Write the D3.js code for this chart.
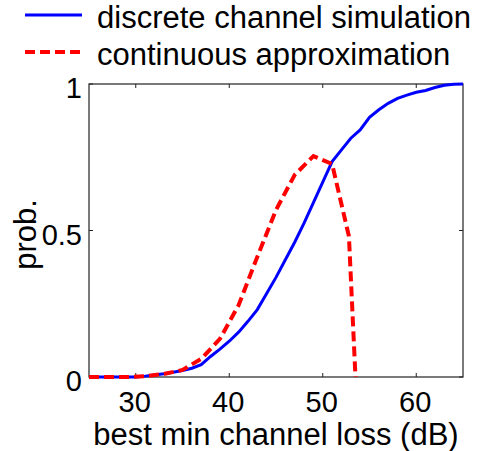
<!DOCTYPE html>
<html>
<head>
<meta charset="utf-8">
<script src="https://cdn.jsdelivr.net/npm/d3@7"></script>
<style>
  body { margin: 0; background: #fff; }
  text { font-family: "Liberation Sans", Arial, sans-serif; fill: #000; }
</style>
</head>
<body>
<div id="chart"></div>
<script>
const width = 485;
const height = 451;

// discrete channel simulation (blue solid)
const discreteX = [25, 26, 27, 28, 29, 30, 31, 32, 33, 34, 35, 36, 37, 38, 39, 40, 41, 42, 43, 44, 45,
  46, 47, 48, 49, 50, 51, 52, 53, 54, 55, 56, 57, 58, 59, 60, 61, 62, 63, 64, 65];
const discreteY = [0, 0, 0, 0, 0, 0, 0.003, 0.007, 0.011, 0.016, 0.022, 0.03, 0.042, 0.07, 0.095, 0.122, 0.153, 0.19, 0.23, 0.285, 0.34,
  0.4, 0.46, 0.525, 0.595, 0.665, 0.735, 0.775, 0.815, 0.843, 0.886, 0.912, 0.934, 0.951, 0.962, 0.972, 0.978, 0.988, 0.996, 0.999, 1];

// continuous approximation (red dashed)
const contX = [25, 27, 29, 31, 33, 35, 37, 39, 41, 43, 45, 47, 49, 51, 52.8, 53.5];
const contY = [0, 0, 0, 0.003, 0.01, 0.024, 0.062, 0.13, 0.245, 0.41, 0.57, 0.69, 0.754, 0.727, 0.48, 0];

const xTicks = [30, 40, 50, 60];
const yTicks = [0, 0.5, 1];
const yTickLabels = ["0", "0.5", "1"];

const seriesNames = ["discrete channel simulation", "continuous approximation"];
const seriesColors = ["#0000ff", "#ff0000"];

const margin = { left: 89, right: 22, top: 84, bottom: 74 };

const svg = d3.select("#chart").append("svg")
  .attr("width", width)
  .attr("height", height);

const x = d3.scaleLinear().domain([25, 65]).range([margin.left, width - margin.right]);
const y = d3.scaleLinear().domain([0, 1]).range([height - margin.bottom, margin.top]);

const plotW = width - margin.left - margin.right;
const plotH = height - margin.top - margin.bottom;

svg.append("defs").append("clipPath").attr("id", "clip")
  .append("rect")
  .attr("x", margin.left).attr("y", margin.top - 3)
  .attr("width", plotW).attr("height", plotH + 6);

// axes box
svg.append("rect")
  .attr("x", margin.left).attr("y", margin.top)
  .attr("width", plotW).attr("height", plotH)
  .attr("fill", "none").attr("stroke", "#222").attr("stroke-width", 1.2);

const tickLen = 4;
// bottom / top ticks
xTicks.forEach(t => {
  svg.append("line").attr("x1", x(t)).attr("x2", x(t))
    .attr("y1", y(0)).attr("y2", y(0) - tickLen).attr("stroke", "#222");
  svg.append("line").attr("x1", x(t)).attr("x2", x(t))
    .attr("y1", y(1)).attr("y2", y(1) + tickLen).attr("stroke", "#222");
  svg.append("text").attr("x", x(t) - 1).attr("y", 412)
    .attr("text-anchor", "middle").attr("font-size", 29).text(t);
});

yTicks.forEach((t, i) => {
  svg.append("line").attr("x1", x(25)).attr("x2", x(25) + tickLen)
    .attr("y1", y(t)).attr("y2", y(t)).attr("stroke", "#222");
  svg.append("line").attr("x1", x(65)).attr("x2", x(65) - tickLen)
    .attr("y1", y(t)).attr("y2", y(t)).attr("stroke", "#222");
  svg.append("text").attr("x", 82).attr("y", y(t) + 14)
    .attr("text-anchor", "end").attr("font-size", 29).text(yTickLabels[i]);
});

// axis labels
svg.append("text").attr("x", (margin.left + width - margin.right) / 2).attr("y", 445)
  .attr("text-anchor", "middle").attr("font-size", 31).text("best min channel loss (dB)");

svg.append("text")
  .attr("transform", `translate(36, ${y(0.5) + 4}) rotate(-90)`)
  .attr("text-anchor", "middle").attr("font-size", 31).text("prob.");

const line = d3.line().x(d => x(d[0])).y(d => y(d[1]));

const plot = svg.append("g").attr("clip-path", "url(#clip)");

plot.append("path")
  .datum(discreteX.map((v, i) => [v, discreteY[i]]))
  .attr("d", line)
  .attr("fill", "none")
  .attr("stroke", seriesColors[0])
  .attr("stroke-width", 3);

plot.append("path")
  .datum(contX.map((v, i) => [v, contY[i]]))
  .attr("d", line)
  .attr("fill", "none")
  .attr("stroke", seriesColors[1])
  .attr("stroke-width", 4)
  .attr("stroke-dasharray", "10,5");

// legend
const legendY = [15, 52];
seriesNames.forEach((name, i) => {
  svg.append("line")
    .attr("x1", 25).attr("x2", 82)
    .attr("y1", legendY[i]).attr("y2", legendY[i])
    .attr("stroke", seriesColors[i])
    .attr("stroke-width", i === 0 ? 3 : 4)
    .attr("stroke-dasharray", i === 0 ? null : "10,5");
  svg.append("text")
    .attr("x", 97).attr("y", legendY[i] + 13)
    .attr("font-size", 31).text(name);
});
</script>
</body>
</html>
